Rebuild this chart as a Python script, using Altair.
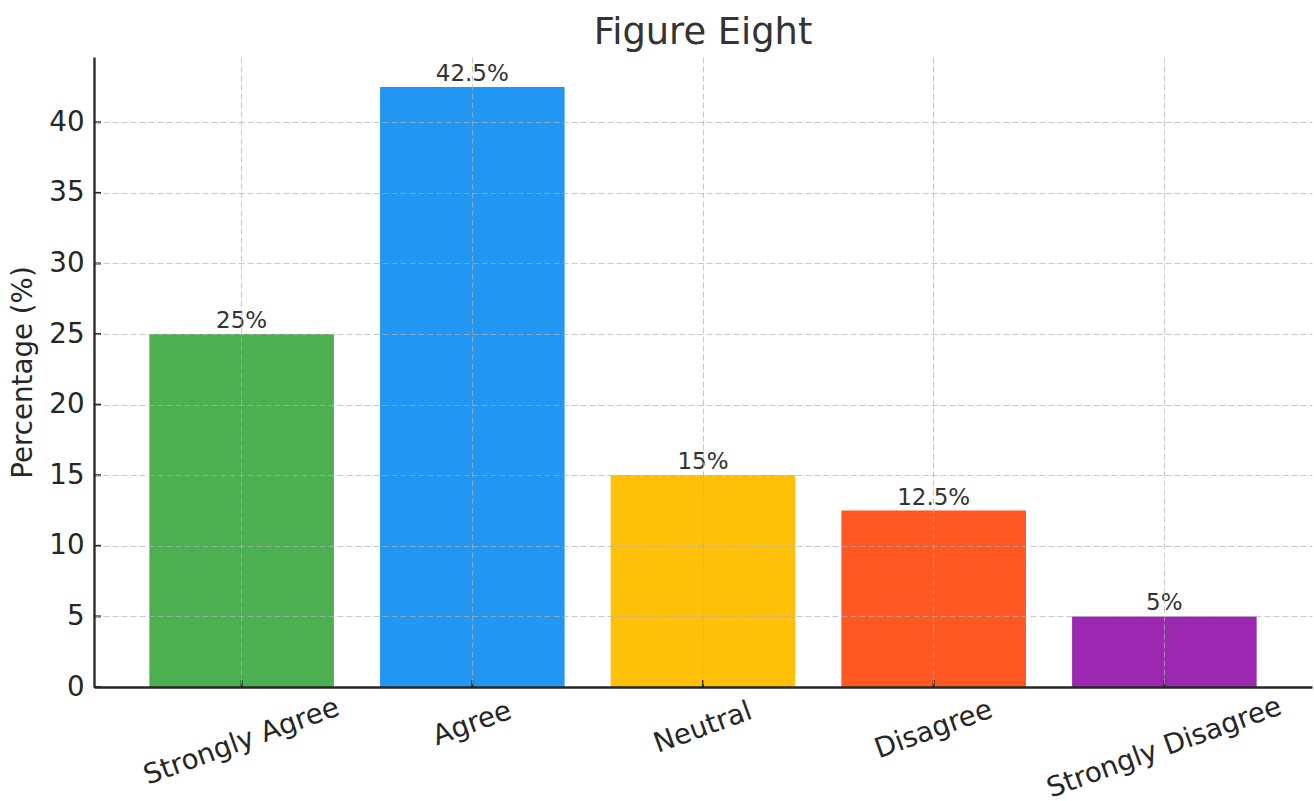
import altair as alt
import pandas as pd

# Survey responses and their share of respondents
responses = ["Strongly Agree", "Agree", "Neutral", "Disagree", "Strongly Disagree"]
percentages = [25, 42.5, 15, 12.5, 5]
bar_colors = ["#4CAF50", "#2196F3", "#FFC107", "#FF5722", "#9C27B0"]
y_tick_values = [0, 5, 10, 15, 20, 25, 30, 35, 40]

df = pd.DataFrame({"response": responses, "pct": percentages})
ticks_df = pd.DataFrame({"tick": y_tick_values})

FONT = "DejaVu Sans"
INK = "#262626"
W, H = 1218, 630
y_max = max(percentages) * 1.05

x_scale = alt.Scale(domain=responses, paddingInner=0.2, paddingOuter=0.24)
y_scale = alt.Scale(domain=[0, y_max], nice=False, zero=True)
color_scale = alt.Scale(domain=responses, range=bar_colors)

grid_style = dict(
    grid=True,
    gridColor="#b0b0b0",
    gridOpacity=0.7,
    gridDash=[6, 3],
    gridWidth=1.1,
    domainColor=INK,
    domainWidth=2.3,
    ticks=False,
    tickSize=0,
    labelFont=FONT,
    labelFontSize=27.7,
    labelColor=INK,
    zindex=1,
)

x_axis = alt.Axis(title=None, labels=False, bandPosition=0.5, **grid_style)

y_axis = alt.Axis(
    title="Percentage (%)",
    titleFont=FONT,
    titleFontSize=27.7,
    titleFontWeight="normal",
    titleColor=INK,
    titleAngle=270,
    titleAlign="center",
    titleBaseline="alphabetic",
    titleX=-63,
    titleY=H / 2,
    values=y_tick_values,
    labelPadding=10,
    **grid_style,
)

base = alt.Chart(df)

bars = base.mark_bar().encode(
    x=alt.X("response:N", scale=x_scale, axis=x_axis, sort=None),
    y=alt.Y("pct:Q", scale=y_scale, axis=y_axis),
    color=alt.Color("response:N", scale=color_scale, legend=None),
)

value_labels = base.transform_calculate(
    label="format(datum.pct, '~g') + '%'"
).mark_text(
    baseline="alphabetic", dy=-6, font=FONT, fontSize=23, color="#333333"
).encode(
    x=alt.X("response:N", scale=x_scale, sort=None),
    y=alt.Y("pct:Q", scale=y_scale),
    text="label:N",
)

# Rotated category labels: each one is pushed straight down so that the top
# of its rotated box clears the axis (longer labels need more room).
drop = "(27 + 2.0 * length(datum.response))"
category_labels = base.mark_text(
    angle=340,
    align="center",
    baseline="middle",
    font=FONT,
    fontSize=27.7,
    color=INK,
    dx={"expr": f"-0.342 * {drop}"},
    dy={"expr": f"0.94 * {drop}"},
).encode(
    x=alt.X("response:N", scale=x_scale, sort=None),
    y=alt.value(H),
    text="response:N",
)

# inward-pointing tick marks on both axes
x_ticks = base.mark_rule(color=INK, strokeWidth=2).encode(
    x=alt.X("response:N", scale=x_scale, sort=None),
    y=alt.value(H),
    y2=alt.value(H - 7),
)

y_ticks = alt.Chart(ticks_df).mark_rule(color=INK, strokeWidth=2).encode(
    y=alt.Y("tick:Q", scale=y_scale),
    x=alt.value(0),
    x2=alt.value(7),
)

chart = (
    alt.layer(bars, value_labels, category_labels, x_ticks, y_ticks)
    .properties(
        width=W,
        height=H,
        autosize=alt.AutoSizeParams(type="none"),
        padding={"left": 94, "top": 57, "right": 2, "bottom": 114},
        title=alt.TitleParams(
            "Figure Eight",
            font=FONT,
            fontSize=36.8,
            fontWeight="normal",
            color="#333333",
            anchor="middle",
            baseline="alphabetic",
            offset=14,
            dy=38,
        ),
        background="white",
    )
    .configure_view(stroke=None)
)

chart.save("out.html", embed_options={"renderer": "svg", "actions": False})
